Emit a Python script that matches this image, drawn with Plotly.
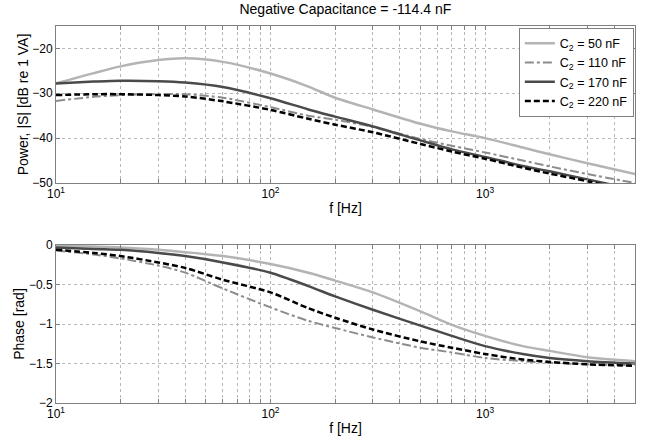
import plotly.graph_objects as go
from plotly.subplots import make_subplots

freq = [10, 15, 20, 30, 40, 60, 100, 150, 200, 300, 500, 700, 1000, 1500, 2000, 3000, 5000]

power_50 = [-27.8, -25.5, -24.0, -22.6, -22.2, -23.0, -25.6, -28.5, -31.0, -33.6, -36.8, -38.5, -40.0, -42.1, -43.6, -45.6, -48.0]
power_110 = [-31.7, -30.8, -30.4, -30.2, -30.2, -31.0, -33.1, -35.0, -35.9, -37.5, -40.2, -41.7, -43.2, -45.0, -46.3, -48.0, -50.0]
power_170 = [-27.8, -27.4, -27.2, -27.3, -27.6, -28.6, -31.1, -33.6, -35.2, -37.4, -40.5, -42.5, -44.2, -46.2, -47.4, -49.2, -51.5]
power_220 = [-30.4, -30.2, -30.2, -30.4, -30.7, -31.8, -33.7, -35.7, -37.0, -38.7, -41.3, -43.0, -44.6, -46.6, -47.9, -49.6, -52.0]

phase_50 = [-0.01, -0.02, -0.03, -0.06, -0.09, -0.14, -0.24, -0.35, -0.45, -0.60, -0.84, -1.01, -1.15, -1.28, -1.34, -1.42, -1.47]
phase_110 = [-0.07, -0.12, -0.17, -0.26, -0.35, -0.55, -0.79, -0.96, -1.05, -1.17, -1.30, -1.36, -1.43, -1.47, -1.49, -1.51, -1.52]
phase_170 = [-0.03, -0.05, -0.06, -0.10, -0.14, -0.22, -0.35, -0.52, -0.65, -0.82, -1.02, -1.15, -1.28, -1.38, -1.43, -1.47, -1.50]
phase_220 = [-0.06, -0.10, -0.14, -0.22, -0.29, -0.44, -0.60, -0.80, -0.92, -1.07, -1.22, -1.30, -1.38, -1.45, -1.48, -1.51, -1.53]

series_names = ["C<sub>2</sub> = 50 nF", "C<sub>2</sub> = 110 nF", "C<sub>2</sub> = 170 nF", "C<sub>2</sub> = 220 nF"]

x_tickvals = [10, 20, 30, 40, 50, 60, 70, 80, 90, 100, 200, 300, 400, 500, 600, 700, 800, 900, 1000, 2000, 3000, 4000, 5000]
x_ticktext = ["10<sup>1</sup>"] + [""] * 8 + ["10<sup>2</sup>"] + [""] * 8 + ["10<sup>3</sup>"] + [""] * 4
power_ticks = [-50, -40, -30, -20]
phase_ticks = [-2, -1.5, -1, -0.5, 0]

styles = [
    dict(color="#b4b4b4", width=2.5, dash="solid"),
    dict(color="#8c8c8c", width=2, dash="dashdot"),
    dict(color="#4a4a4a", width=2.5, dash="solid"),
    dict(color="#000000", width=2.5, dash="6px,3px"),
]

fig = make_subplots(rows=2, cols=1, vertical_spacing=0.0)

for name, y, st in zip(series_names, [power_50, power_110, power_170, power_220], styles):
    fig.add_trace(go.Scatter(x=freq, y=y, mode="lines", name=name, line=st, line_shape="spline",
                             line_smoothing=0.8), row=1, col=1)
for name, y, st in zip(series_names, [phase_50, phase_110, phase_170, phase_220], styles):
    fig.add_trace(go.Scatter(x=freq, y=y, mode="lines", name=name, line=st, line_shape="spline",
                             line_smoothing=0.8, showlegend=False), row=2, col=1)

font = dict(family="Liberation Sans, Arial, sans-serif", size=12, color="#000")
axis_common = dict(showline=True, linecolor="#808080", linewidth=1, mirror="ticks",
                   ticks="inside", ticklen=4, tickcolor="#808080",
                   showgrid=True, gridcolor="#b8b8b8", griddash="dot", gridwidth=1,
                   zeroline=False, tickfont=dict(size=12), automargin=False)

fig.update_xaxes(type="log", range=[1, 3.69897], tickvals=x_tickvals, ticktext=x_ticktext,
                 title_text="f [Hz]", title_standoff=2, **axis_common)
fig.update_yaxes(**axis_common)
fig.update_yaxes(range=[-50, -15], tickvals=power_ticks, title_text="Power, |S| [dB re 1 VA]",
                 title_standoff=0, row=1, col=1)
fig.update_yaxes(range=[-2, 0], tickvals=phase_ticks, title_text="Phase [rad]",
                 title_standoff=0, row=2, col=1)

fig.update_layout(
    width=648, height=448,
    margin=dict(l=56, r=13, t=26, b=45),
    paper_bgcolor="white", plot_bgcolor="white",
    font=font,
    title=dict(text="Negative Capacitance = -114.4 nF", x=0.533, xanchor="center", y=0.99,
               yanchor="top", font=dict(size=14)),
    legend=dict(x=0.998, xanchor="right", y=0.996, yanchor="top", bordercolor="#808080",
                borderwidth=1, bgcolor="white", font=dict(size=12.5, family="Liberation Sans, Arial, sans-serif"),
                tracegroupgap=0, itemwidth=30),
)
fig.layout.yaxis.domain = [0.5836, 1.0]
fig.layout.yaxis2.domain = [0.0, 0.419]

fig.write_html("out.html", config={"displayModeBar": False},
               post_script="document.body.style.margin='0';document.body.style.overflow='hidden';")
